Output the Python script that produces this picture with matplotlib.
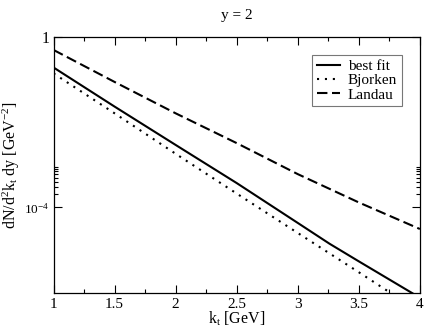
import numpy as np
import matplotlib
matplotlib.use('Agg')
from matplotlib import pyplot as plt
from matplotlib.ticker import FixedLocator, NullFormatter

plt.rcParams['font.family'] = ['Liberation Serif', 'DejaVu Serif']
plt.rcParams['mathtext.fontset'] = 'custom'
plt.rcParams['mathtext.rm'] = 'Liberation Serif'
plt.rcParams['mathtext.it'] = 'Liberation Serif:italic'

# values
kt = [1.0, 1.5, 2.0, 2.5, 3.0, 3.26, 3.5, 4.0]
best_fit = [0.19, 2.3e-2, 2.9e-3, 3.7e-4, 4.3e-5, 1.4e-5, 5.4e-6, 7.6e-7]

kt2 = [1.0, 1.5, 2.0, 2.5, 3.0, 3.5, 4.0]
bjorken = [0.138, 1.6e-2, 1.8e-3, 2.1e-4, 2.5e-5, 3.0e-6, 3.5e-7]
landau = [0.49, 8.7e-2, 1.6e-2, 3.2e-3, 6.0e-4, 1.3e-4, 3.1e-5]

xticks = [1, 1.5, 2, 2.5, 3, 3.5, 4]
xtick_labels = ['1', '1.5', '2', '2.5', '3', '3.5', '4']
yticks = [1e-4, 1]
ytick_labels = ['10$^{-4}$', '1']

fig = plt.figure(figsize=(4.25, 3.31), dpi=100)
ax = fig.add_axes([0.126, 0.116, 0.862, 0.773])

ax.plot(kt, best_fit, color='black', lw=1.5, ls='-', label='best fit')
ax.plot(kt2, bjorken, color='black', lw=1.5, ls=(0, (1, 2.8)), label='Bjorken')
ax.plot(kt2, landau, color='black', lw=1.5, ls=(0, (5, 2.2)), label='Landau')

ax.set_yscale('log')
ax.set_xlim(1, 4)
ax.set_ylim(1e-6, 1)

ax.xaxis.set_major_locator(FixedLocator(xticks))
ax.set_xticklabels(xtick_labels)
ax.xaxis.set_minor_locator(FixedLocator(np.arange(1, 4.01, 0.25)))
ax.yaxis.set_major_locator(FixedLocator(yticks))
ax.set_yticklabels(ytick_labels)
ax.yaxis.set_minor_locator(FixedLocator([k * 1e-4 for k in range(2, 10)]))
ax.yaxis.set_minor_formatter(NullFormatter())

ax.tick_params(which='both', direction='in', top=True, right=True, width=0.8)
ax.tick_params(which='major', length=6, pad=4)
ax.tick_params(which='minor', length=3)
ax.tick_params(axis='x', labelsize=11)
ax.tick_params(axis='y', labelsize=9.5, pad=3)
ax.get_yticklabels()[1].set_fontsize(11.5)
for s in ax.spines.values():
    s.set_linewidth(0.9)

ax.set_xlabel('k$_\\mathrm{t}$ [GeV]', fontsize=11.5, labelpad=-1)
ax.set_ylabel('dN/d$^2$k$_\\mathrm{t}$ dy [GeV$^{-2}$]', fontsize=11.5, labelpad=2)
ax.set_title('y = 2', fontsize=11, pad=13)

leg = ax.legend(loc='upper right', bbox_to_anchor=(0.95, 0.93), fontsize=11,
                frameon=True, fancybox=False, handlelength=1.5, handletextpad=0.5,
                borderpad=0.3, labelspacing=0.05, borderaxespad=0)
leg.get_frame().set_edgecolor('#555555')
leg.get_frame().set_linewidth(0.8)

plt.savefig('out.png', dpi=100)
